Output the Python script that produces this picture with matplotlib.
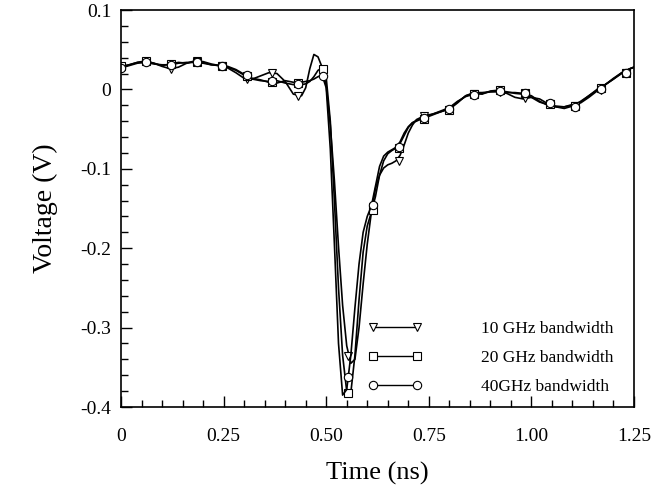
import matplotlib
matplotlib.use("Agg")
import matplotlib.pyplot as plt
from matplotlib.ticker import MultipleLocator, FixedLocator, FixedFormatter

plt.rcParams['font.family'] = ['Liberation Serif', 'DejaVu Serif']
plt.rcParams['axes.unicode_minus'] = False

# time axis of the traces (ns)
t_line = [0.00, 0.02, 0.04, 0.06, 0.08, 0.10, 0.12, 0.14, 0.16, 0.18, 0.20, 0.22,
          0.24, 0.26, 0.28, 0.30, 0.32, 0.34, 0.36, 0.38, 0.40, 0.42, 0.44,
          0.45, 0.46, 0.47, 0.48, 0.49, 0.50, 0.51, 0.52, 0.53, 0.54, 0.55, 0.56,
          0.57, 0.58, 0.59, 0.60, 0.61, 0.62, 0.63, 0.64, 0.65, 0.66, 0.67, 0.68,
          0.69, 0.70, 0.71, 0.72, 0.74, 0.76, 0.78, 0.80, 0.82, 0.84, 0.86, 0.88,
          0.90, 0.92, 0.94, 0.96, 0.98, 1.00, 1.02, 1.04, 1.06, 1.08, 1.10, 1.12,
          1.14, 1.16, 1.18, 1.20, 1.22, 1.24, 1.26]

# voltage traces (V)
v10 = [0.028, 0.031, 0.034, 0.035, 0.033, 0.029, 0.026, 0.028, 0.033, 0.036, 0.035, 0.032,
       0.030, 0.027, 0.021, 0.014, 0.013, 0.017, 0.021, 0.020, 0.010, -0.006, -0.008,
       0.002, 0.026, 0.044, 0.041, 0.028, 0.004, -0.045, -0.115, -0.198, -0.272, -0.323, -0.345,
       -0.340, -0.300, -0.245, -0.195, -0.155, -0.125, -0.108, -0.099, -0.095, -0.093, -0.090, -0.083,
       -0.070, -0.055, -0.045, -0.038, -0.033, -0.031, -0.028, -0.024, -0.016, -0.008, -0.004, -0.004,
       -0.003, -0.003, -0.005, -0.010, -0.012, -0.010, -0.012, -0.018, -0.022, -0.022, -0.019, -0.017,
       -0.010, -0.002, 0.006, 0.014, 0.021, 0.026, 0.030]

v20 = [0.029, 0.031, 0.034, 0.036, 0.033, 0.030, 0.032, 0.034, 0.033, 0.035, 0.034, 0.031,
       0.030, 0.028, 0.024, 0.018, 0.014, 0.012, 0.009, 0.008, 0.011, 0.009, 0.006,
       0.007, 0.010, 0.016, 0.024, 0.027, 0.015, -0.040, -0.140, -0.250, -0.335, -0.380, -0.382,
       -0.335, -0.265, -0.205, -0.172, -0.155, -0.135, -0.108, -0.090, -0.081, -0.077, -0.074, -0.068,
       -0.058, -0.048, -0.042, -0.039, -0.036, -0.032, -0.028, -0.025, -0.017, -0.008, -0.005, -0.006,
       -0.002, -0.001, -0.004, -0.004, -0.005, -0.008, -0.015, -0.020, -0.021, -0.022, -0.020, -0.016,
       -0.008, 0.000, 0.006, 0.013, 0.021, 0.026, 0.030]

v40 = [0.027, 0.030, 0.033, 0.034, 0.032, 0.031, 0.031, 0.033, 0.034, 0.034, 0.033, 0.031,
       0.030, 0.029, 0.025, 0.019, 0.013, 0.011, 0.010, 0.011, 0.008, 0.006, 0.009,
       0.010, 0.011, 0.013, 0.016, 0.018, 0.002, -0.075, -0.195, -0.320, -0.385, -0.378, -0.335,
       -0.275, -0.220, -0.180, -0.160, -0.147, -0.122, -0.097, -0.084, -0.079, -0.076, -0.073, -0.066,
       -0.055, -0.047, -0.042, -0.040, -0.035, -0.031, -0.027, -0.023, -0.015, -0.009, -0.006, -0.005,
       -0.003, -0.002, -0.003, -0.005, -0.006, -0.010, -0.016, -0.019, -0.022, -0.024, -0.021, -0.015,
       -0.008, -0.001, 0.006, 0.013, 0.020, 0.026, 0.030]

# marker sample points
t_mark = [0.0, 0.0615, 0.123, 0.1845, 0.246, 0.3075, 0.369, 0.4305, 0.492, 0.5535, 0.615,
          0.6765, 0.738, 0.7995, 0.861, 0.9225, 0.984, 1.0455, 1.107, 1.1685, 1.23]
m10 = [0.028, 0.035, 0.026, 0.036, 0.030, 0.013, 0.021, -0.008, 0.025, -0.336, -0.148,
       -0.090, -0.034, -0.026, -0.006, -0.003, -0.011, -0.019, -0.021, -0.001, 0.021]
m20 = [0.029, 0.036, 0.032, 0.035, 0.030, 0.017, 0.009, 0.008, 0.026, -0.382, -0.152,
       -0.074, -0.037, -0.026, -0.006, -0.001, -0.005, -0.018, -0.021, 0.002, 0.021]
m40 = [0.027, 0.034, 0.031, 0.034, 0.030, 0.018, 0.010, 0.007, 0.017, -0.362, -0.145,
       -0.073, -0.036, -0.025, -0.007, -0.002, -0.005, -0.017, -0.022, 0.001, 0.021]

labels = ["10 GHz bandwidth", "20 GHz bandwidth", "40GHz bandwidth"]
x_ticks = [0, 0.25, 0.50, 0.75, 1.00, 1.25]
x_ticklabels = ["0", "0.25", "0.50", "0.75", "1.00", "1.25"]
y_ticks = [0.1, 0, -0.1, -0.2, -0.3, -0.4]
y_ticklabels = ["0.1", "0", "-0.1", "-0.2", "-0.3", "-0.4"]

fig = plt.figure(figsize=(6.67, 4.94), dpi=100)
ax = fig.add_axes([121 / 667, 87 / 494, 513 / 667, 397 / 494])

series = [(v10, m10, 'v'), (v20, m20, 's'), (v40, m40, 'o')]
handles = []
for (v, m, mk), lab in zip(series, labels):
    ax.plot(t_line, v, color='black', lw=1.2)
    ax.plot(t_mark, m, linestyle='none', marker=mk, ms=6, mfc='white',
            mec='black', mew=0.8)
    h, = ax.plot([], [], color='black', lw=1.0, marker=mk, ms=6, mfc='white',
                 mec='black', mew=0.8, label=lab)
    handles.append(h)

ax.set_xlim(0, 1.25)
ax.set_ylim(-0.4, 0.1)
ax.xaxis.set_major_locator(FixedLocator(x_ticks))
ax.xaxis.set_major_formatter(FixedFormatter(x_ticklabels))
ax.yaxis.set_major_locator(FixedLocator(y_ticks))
ax.yaxis.set_major_formatter(FixedFormatter(y_ticklabels))
ax.xaxis.set_minor_locator(MultipleLocator(0.05))
ax.yaxis.set_minor_locator(MultipleLocator(0.02))
ax.tick_params(which='both', direction='in', top=False, right=False, labelsize=14)
ax.tick_params(which='major', length=8, width=1)
ax.tick_params(which='minor', length=5, width=1)
ax.tick_params(axis='x', pad=15)
ax.tick_params(axis='y', pad=7)
for sp in ax.spines.values():
    sp.set_linewidth(1.2)

ax.set_xlabel("Time (ns)", fontsize=19, labelpad=12)
ax.set_ylabel("Voltage (V)", fontsize=20, labelpad=16)

ax.legend(handles=handles, loc='lower right', bbox_to_anchor=(0.96, 0.03),
          frameon=False, numpoints=2, handlelength=3.1, handletextpad=3.4,
          labelspacing=0.75, fontsize=12.5, borderpad=0, borderaxespad=0)

fig.savefig("out.png", dpi=100)
